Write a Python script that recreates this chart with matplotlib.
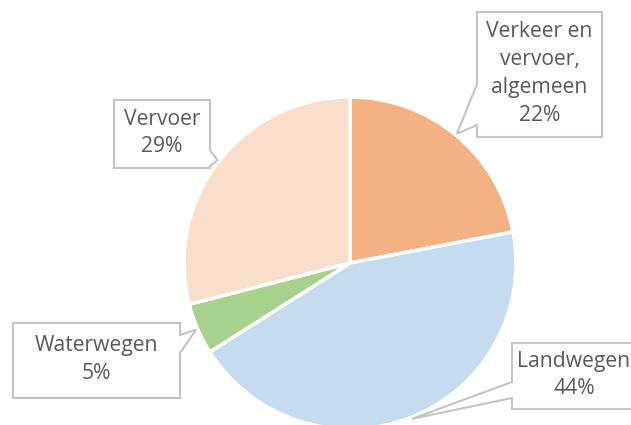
import numpy as np
import matplotlib.pyplot as plt
from matplotlib.patches import Polygon

# Budget shares per category (percent)
labels = ['Verkeer en\nvervoer,\nalgemeen', 'Landwegen', 'Waterwegen', 'Vervoer']
values = [22, 44, 5, 29]
colors = ['#F4B183', '#C5DBEF', '#A9D18E', '#F9DECC']

W, H = 631, 425
fig = plt.figure(figsize=(W / 100, H / 100), dpi=100)
ax = fig.add_axes([0, 0, 1, 1])

cx, cy, r = 350, H - 263, 166
wedges, _ = ax.pie(values, colors=colors, startangle=90, counterclock=False,
                   center=(cx, cy), radius=r, frame=True,
                   wedgeprops=dict(edgecolor='white', linewidth=2.5))
ax.set_xlim(0, W)
ax.set_ylim(0, H)
ax.set_aspect('equal')
ax.axis('off')

# callout boxes in pixel layout (x0, y0_top, x1, y1_bottom), pointer side and base span
boxes = [
    ((477, 12, 602, 137), 'left', (84, 125)),
    ((512, 343, 640, 409), 'left', (382, 398)),
    ((13, 323, 180, 398), 'right', (335, 353)),
    ((114, 100, 210, 168), 'right', (150, 166)),
]

for w, lab, val, (bx, side, span) in zip(wedges, labels, values, boxes):
    x0, y0, x1, y1 = bx
    mid = np.deg2rad((w.theta1 + w.theta2) / 2)
    tx, ty = cx + 1.01 * r * np.cos(mid), cy + 1.01 * r * np.sin(mid)
    ya, yb = span
    if side == 'left':
        pts = [(x0, y0), (x1, y0), (x1, y1), (x0, y1), (x0, yb), (tx, H - ty), (x0, ya)]
    else:
        pts = [(x0, y0), (x1, y0), (x1, ya), (tx, H - ty), (x1, yb), (x1, y1), (x0, y1)]
    pts = [(px, H - py) for px, py in pts]
    ax.add_patch(Polygon(pts, closed=True, facecolor='white', edgecolor='#C4C4C4',
                         linewidth=1.5, zorder=3))
    ax.text((x0 + min(x1, W + 5)) / 2, H - (y0 + y1) / 2 + 1, f'{lab}\n{val}%',
            ha='center', va='center', fontsize=15.2, color='#595959',
            family='Open Sans', linespacing=1.42, zorder=4)

fig.savefig('out.png', dpi=100)
